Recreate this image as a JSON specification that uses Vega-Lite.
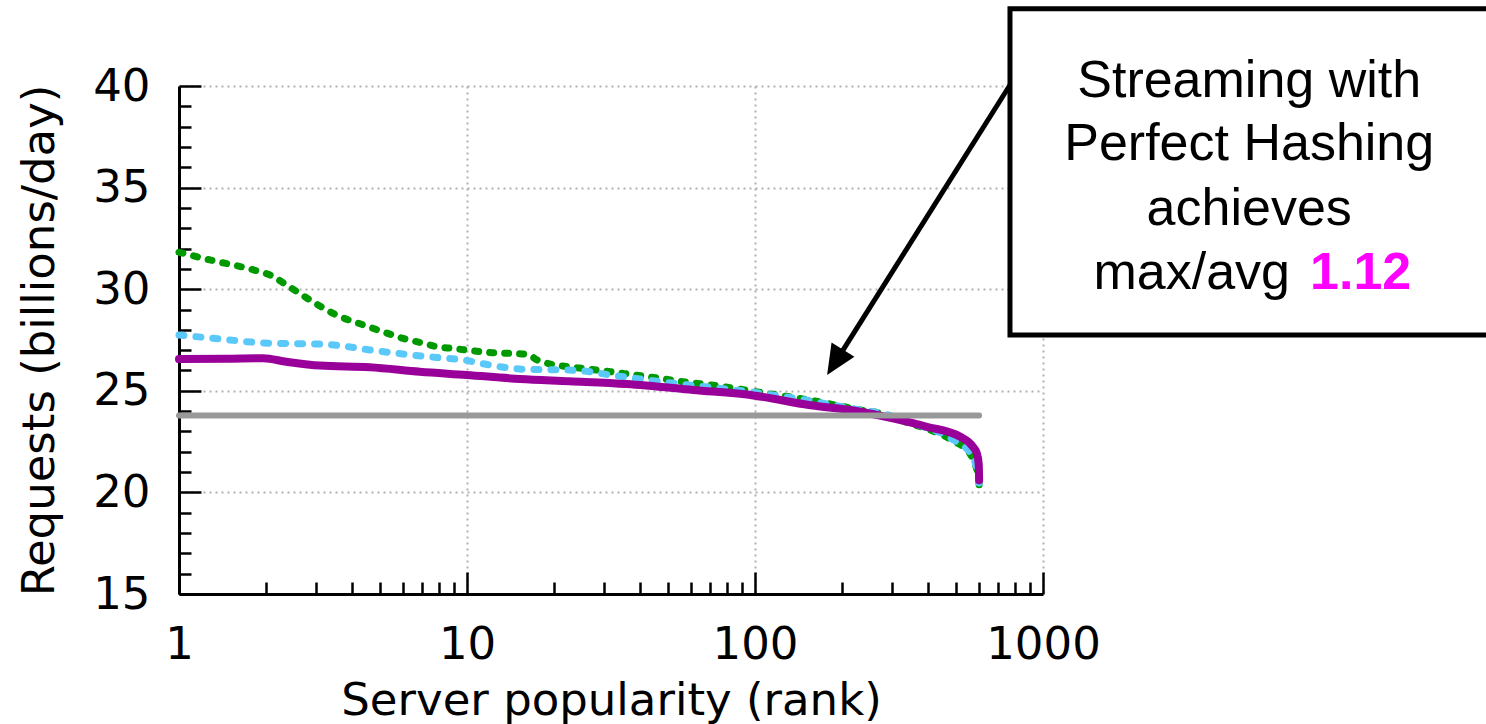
{
  "$schema": "https://vega.github.io/schema/vega-lite/v6.json",
  "autosize": {"type": "none"},
  "width": 864,
  "height": 508,
  "padding": {"left": 179, "top": 86, "right": 443, "bottom": 130},
  "background": "white",
  "config": {
    "view": {"stroke": null},
    "axis": {
      "labelFont": "DejaVu Sans",
      "labelFontSize": 45,
      "labelColor": "black",
      "titleFont": "DejaVu Sans",
      "titleFontSize": 45,
      "titleFontWeight": "normal",
      "titleColor": "black",
      "domainColor": "black",
      "domainWidth": 3,
      "tickColor": "black",
      "tickWidth": 2.5,
      "gridColor": "#b0b0b0",
      "gridDash": [2, 4],
      "gridWidth": 2,
      "labelOverlap": false
    }
  },
  "datasets": {
    "curves": [
      {"series": "green", "rank": 1, "req": 31.82},
      {"series": "green", "rank": 1.28, "req": 31.44},
      {"series": "green", "rank": 1.67, "req": 31.08},
      {"series": "green", "rank": 1.91, "req": 30.86},
      {"series": "green", "rank": 2.07, "req": 30.7},
      {"series": "green", "rank": 2.36, "req": 30.21},
      {"series": "green", "rank": 2.85, "req": 29.47},
      {"series": "green", "rank": 3.52, "req": 28.73},
      {"series": "green", "rank": 4.37, "req": 28.24},
      {"series": "green", "rank": 5, "req": 27.95},
      {"series": "green", "rank": 6, "req": 27.58},
      {"series": "green", "rank": 7, "req": 27.35},
      {"series": "green", "rank": 7.84, "req": 27.17},
      {"series": "green", "rank": 9, "req": 27.08},
      {"series": "green", "rank": 10, "req": 27.0},
      {"series": "green", "rank": 12, "req": 26.88},
      {"series": "green", "rank": 15.7, "req": 26.81},
      {"series": "green", "rank": 16.5, "req": 26.75},
      {"series": "green", "rank": 17.5, "req": 26.52},
      {"series": "green", "rank": 19, "req": 26.35},
      {"series": "green", "rank": 22.2, "req": 26.19},
      {"series": "green", "rank": 26, "req": 26.08},
      {"series": "green", "rank": 31.4, "req": 25.94},
      {"series": "green", "rank": 38, "req": 25.78},
      {"series": "green", "rank": 46.9, "req": 25.61},
      {"series": "green", "rank": 56, "req": 25.45},
      {"series": "green", "rank": 69.9, "req": 25.29},
      {"series": "green", "rank": 85, "req": 25.12},
      {"series": "green", "rank": 100, "req": 24.96},
      {"series": "green", "rank": 125, "req": 24.75},
      {"series": "green", "rank": 154, "req": 24.55},
      {"series": "green", "rank": 190, "req": 24.3},
      {"series": "green", "rank": 232, "req": 24.06},
      {"series": "green", "rank": 282, "req": 23.85},
      {"series": "green", "rank": 344, "req": 23.4},
      {"series": "green", "rank": 400, "req": 23.1},
      {"series": "green", "rank": 449, "req": 22.82},
      {"series": "green", "rank": 500, "req": 22.45},
      {"series": "green", "rank": 528, "req": 22.25},
      {"series": "green", "rank": 555, "req": 21.95},
      {"series": "green", "rank": 580, "req": 21.43},
      {"series": "green", "rank": 592, "req": 21.0},
      {"series": "green", "rank": 598, "req": 20.7},
      {"series": "green", "rank": 600, "req": 20.35},
      {"series": "blue", "rank": 1, "req": 27.75},
      {"series": "blue", "rank": 1.39, "req": 27.55},
      {"series": "blue", "rank": 2.07, "req": 27.34},
      {"series": "blue", "rank": 3.09, "req": 27.3},
      {"series": "blue", "rank": 3.72, "req": 27.2},
      {"series": "blue", "rank": 4.6, "req": 27.01},
      {"series": "blue", "rank": 6, "req": 26.81},
      {"series": "blue", "rank": 7.84, "req": 26.64},
      {"series": "blue", "rank": 9.72, "req": 26.52},
      {"series": "blue", "rank": 12, "req": 26.27},
      {"series": "blue", "rank": 15.7, "req": 26.06},
      {"series": "blue", "rank": 22.2, "req": 26.02},
      {"series": "blue", "rank": 26, "req": 25.96},
      {"series": "blue", "rank": 31.4, "req": 25.78},
      {"series": "blue", "rank": 38, "req": 25.62},
      {"series": "blue", "rank": 46.9, "req": 25.45},
      {"series": "blue", "rank": 56, "req": 25.32},
      {"series": "blue", "rank": 69.9, "req": 25.17},
      {"series": "blue", "rank": 85, "req": 25.04},
      {"series": "blue", "rank": 100, "req": 24.92},
      {"series": "blue", "rank": 125, "req": 24.72},
      {"series": "blue", "rank": 154, "req": 24.52},
      {"series": "blue", "rank": 190, "req": 24.28},
      {"series": "blue", "rank": 232, "req": 24.06},
      {"series": "blue", "rank": 282, "req": 23.86},
      {"series": "blue", "rank": 344, "req": 23.45},
      {"series": "blue", "rank": 400, "req": 23.15},
      {"series": "blue", "rank": 449, "req": 22.88},
      {"series": "blue", "rank": 500, "req": 22.5},
      {"series": "blue", "rank": 528, "req": 22.3},
      {"series": "blue", "rank": 555, "req": 22.0},
      {"series": "blue", "rank": 580, "req": 21.5},
      {"series": "blue", "rank": 592, "req": 21.05},
      {"series": "blue", "rank": 598, "req": 20.7},
      {"series": "blue", "rank": 600, "req": 20.4},
      {"series": "purple", "rank": 1, "req": 26.56},
      {"series": "purple", "rank": 1.5, "req": 26.58},
      {"series": "purple", "rank": 1.96, "req": 26.6},
      {"series": "purple", "rank": 2.36, "req": 26.43},
      {"series": "purple", "rank": 3.09, "req": 26.24},
      {"series": "purple", "rank": 4.6, "req": 26.16},
      {"series": "purple", "rank": 6.86, "req": 25.94},
      {"series": "purple", "rank": 9.97, "req": 25.78},
      {"series": "purple", "rank": 15.3, "req": 25.58},
      {"series": "purple", "rank": 22.7, "req": 25.47},
      {"series": "purple", "rank": 35.9, "req": 25.33},
      {"series": "purple", "rank": 61, "req": 25.04},
      {"series": "purple", "rank": 100, "req": 24.76},
      {"series": "purple", "rank": 154, "req": 24.3},
      {"series": "purple", "rank": 232, "req": 23.97},
      {"series": "purple", "rank": 301, "req": 23.64},
      {"series": "purple", "rank": 395, "req": 23.23},
      {"series": "purple", "rank": 516, "req": 22.74},
      {"series": "purple", "rank": 571, "req": 22.25},
      {"series": "purple", "rank": 590, "req": 21.9},
      {"series": "purple", "rank": 598, "req": 21.4},
      {"series": "purple", "rank": 599.5, "req": 20.9},
      {"series": "purple", "rank": 600, "req": 20.6},
      {"series": "avg", "rank": 1, "req": 23.78},
      {"series": "avg", "rank": 600, "req": 23.78}
    ],
    "box": [{"rank": 768, "rank2": 40000, "req": 43.8, "req2": 27.75}],
    "arrow": [{"rank": 768, "rank2": 190, "req": 40.05, "req2": 26.4}],
    "head": [{"rank": 178, "req": 25.78}],
    "notes": [
      {"t": "Streaming with", "rank": 5200, "req": 39.47},
      {"t": "Perfect Hashing", "rank": 5200, "req": 36.36},
      {"t": "achieves", "rank": 5200, "req": 33.16}
    ],
    "note_a": [{"t": "max/avg", "rank": 7206, "req": 30.01}],
    "note_b": [{"t": "1.12", "rank": 8457, "req": 30.01}]
  },
  "encoding": {
    "x": {
      "field": "rank",
      "type": "quantitative",
      "scale": {"type": "log", "domain": [1, 1000], "nice": false},
      "axis": {
        "title": "Server popularity (rank)",
        "titlePadding": 1,
        "values": [1,2,3,4,5,6,7,8,9,10,20,30,40,50,60,70,80,90,100,200,300,400,500,600,700,800,900,1000],
        "labelExpr": "(datum.value==1||datum.value==10||datum.value==100||datum.value==1000) ? format(datum.value,'d') : ''",
        "tickSize": {"condition": {"test": "datum.value==1||datum.value==10||datum.value==100||datum.value==1000", "value": -22}, "value": -12},
        "gridOpacity": {"condition": {"test": "datum.value==1||datum.value==10||datum.value==100||datum.value==1000", "value": 1}, "value": 0},
        "labelPadding": 50,
        "labelFlush": false,
        "labelOverlap": false
      }
    },
    "y": {
      "field": "req",
      "type": "quantitative",
      "scale": {"domain": [15, 40], "nice": false, "zero": false},
      "axis": {
        "title": "Requests (billions/day)",
        "titlePadding": 30,
        "values": [15,16,17,18,19,20,21,22,23,24,25,26,27,28,29,30,31,32,33,34,35,36,37,38,39,40],
        "labelExpr": "datum.value % 5 == 0 ? format(datum.value,'d') : ''",
        "tickSize": {"condition": {"test": "datum.value % 5 == 0", "value": -22}, "value": -12},
        "gridOpacity": {"condition": {"test": "datum.value % 5 == 0", "value": 1}, "value": 0},
        "labelPadding": 51,
        "labelOverlap": false
      }
    }
  },
  "layer": [
    {
      "data": {"name": "curves"},
      "transform": [{"filter": "datum.series == 'green'"}],
      "mark": {"type": "line", "color": "#009900", "strokeWidth": 7, "strokeDash": [4, 11], "strokeCap": "round", "interpolate": "monotone"}
    },
    {
      "data": {"name": "curves"},
      "transform": [{"filter": "datum.series == 'blue'"}],
      "mark": {"type": "line", "color": "#5bc8fa", "strokeWidth": 7, "strokeDash": [5, 12], "strokeCap": "round", "interpolate": "monotone"}
    },
    {
      "data": {"name": "curves"},
      "transform": [{"filter": "datum.series == 'purple'"}],
      "mark": {"type": "line", "color": "#990099", "strokeWidth": 8, "strokeCap": "round", "interpolate": "monotone"}
    },
    {
      "data": {"name": "curves"},
      "transform": [{"filter": "datum.series == 'avg'"}],
      "mark": {"type": "line", "color": "#999999", "strokeWidth": 6, "strokeCap": "round"}
    },
    {
      "data": {"name": "box"},
      "mark": {"type": "rect", "fill": "white", "stroke": "black", "strokeWidth": 5},
      "encoding": {
        "x2": {"field": "rank2"},
        "y2": {"field": "req2"}
      }
    },
    {
      "data": {"name": "arrow"},
      "mark": {"type": "rule", "color": "black", "strokeWidth": 5},
      "encoding": {
        "x2": {"field": "rank2"},
        "y2": {"field": "req2"}
      }
    },
    {
      "data": {"name": "notes"},
      "mark": {"type": "text", "font": "Liberation Sans", "fontSize": 52, "align": "center", "baseline": "alphabetic", "color": "black"},
      "encoding": {
        "text": {"field": "t"}
      }
    },
    {
      "data": {"name": "note_a"},
      "mark": {"type": "text", "font": "Liberation Sans", "fontSize": 52, "align": "right", "baseline": "alphabetic", "color": "black"},
      "encoding": {
        "text": {"field": "t"}
      }
    },
    {
      "data": {"name": "note_b"},
      "mark": {"type": "text", "font": "Liberation Sans", "fontSize": 52, "fontWeight": "bold", "align": "left", "baseline": "alphabetic", "color": "#ff00ff"},
      "encoding": {
        "text": {"field": "t"}
      }
    },
    {
      "data": {"name": "head"},
      "mark": {"type": "point", "shape": "M0,0L-0.72,1.6L0.72,1.6Z", "size": 1400, "filled": true, "color": "black", "opacity": 1, "angle": 212}
    }
  ]
}
